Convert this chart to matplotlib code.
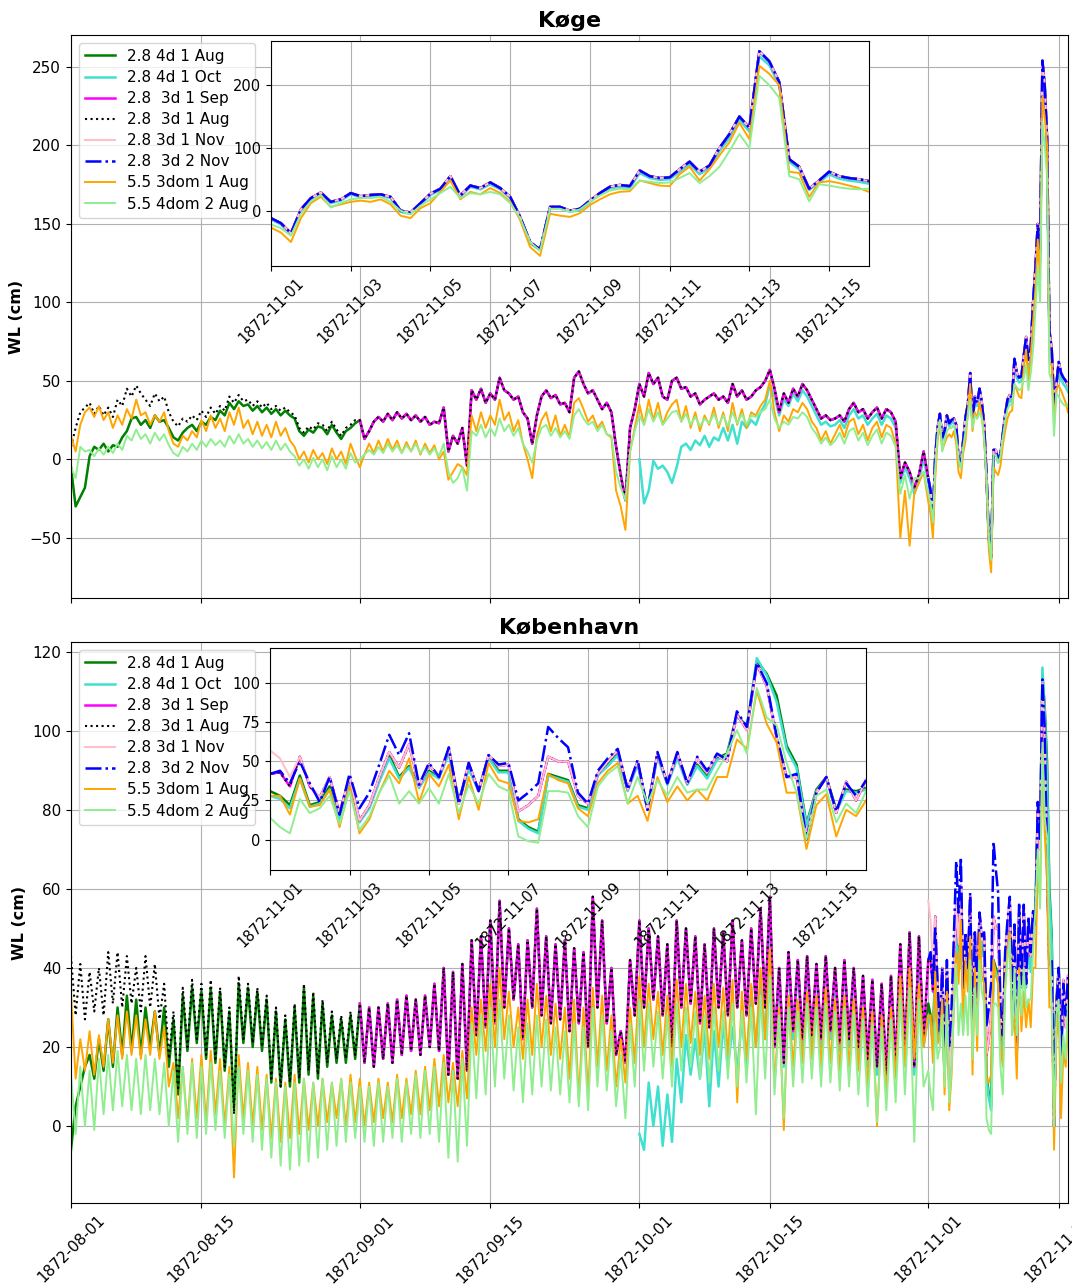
import matplotlib
matplotlib.use('Agg')
import matplotlib.pyplot as plt
import matplotlib.dates as mdates
import numpy as np
import pandas as pd

plt.rcParams['font.size'] = 11

# time axes: 12-hourly values up to end of October, 6-hourly in November
t_pre = pd.date_range('1872-08-01', periods=184, freq='12h')
t_nov = pd.date_range('1872-11-01', periods=61, freq='6h')

# ---------------- Køge ----------------
# 2.8 3d 1 Aug, Aug 1 - Oct 31 (also 1 Sep run from Sep 1, 4d 1 Aug run from Sep 1)
kog_3d_1aug_pre = [
    8, 20, 30, 33, 36, 29, 34, 28, 33, 27,
    38, 34, 45, 40, 47, 42, 38, 34, 42, 37,
    40, 30, 24, 21, 26, 24, 28, 25, 31, 27,
    33, 29, 34, 31, 40, 36, 41, 37, 38, 34,
    37, 33, 36, 32, 34, 31, 33, 30, 28, 20,
    17, 21, 19, 23, 22, 18, 24, 19, 15, 20,
    22, 25, 25, 13, 18, 24, 27, 24, 29, 25,
    30, 26, 29, 25, 28, 24, 27, 22, 24, 23,
    33, 5, 15, 10, 20, -4, 44, 38, 45, 36,
    42, 38, 52, 44, 42, 38, 40, 30, 26, 10,
    28, 40, 44, 39, 41, 35, 36, 30, 52, 56,
    48, 42, 44, 38, 32, 36, 30, 8, -10, -26,
    20, 32, 48, 40, 55, 48, 52, 40, 38, 50,
    52, 45, 46, 40, 42, 35, 38, 40, 42, 38,
    40, 36, 48, 40, 44, 38, 40, 44, 46, 50,
    57, 45, 30, 42, 36, 45, 40, 48, 44, 38,
    32, 26, 28, 25, 26, 28, 24, 32, 36, 30,
    32, 26, 30, 33, 26, 32, 30, 24, -12, -2,
    -8, -18, -10, 5]
# 2.8 4d 1 Aug, August only
kog_4d_1aug_aug = [
    -5, -30, -24, -18, 2, 8, 6, 10, 5, 9,
    8, 14, 18, 26, 27, 22, 25, 20, 28, 24,
    25, 20, 14, 12, 17, 20, 22, 18, 24, 22,
    27, 25, 31, 28, 36, 32, 37, 34, 35, 31,
    34, 30, 33, 29, 32, 28, 31, 28, 26, 18,
    15, 19, 17, 21, 20, 16, 22, 17, 13, 18,
    20, 23]
# 2.8 4d 1 Oct, October
kog_4d_1oct_pre = [
    0, -28, -20, -1, -6, -4, -8, -15, -5, 8,
    10, 6, 12, 9, 15, 8, 14, 12, 20, 12,
    22, 10, 24, 20, 25, 22, 30, 35, 48, 40,
    28, 38, 34, 42, 37, 44, 40, 34, 28, 22,
    24, 21, 22, 25, 20, 28, 32, 26, 28, 22,
    26, 29, 22, 28, 26, 20, -15, -5, -12, -22,
    -13, 0]
kog_3dom_pre = [
    15, 5, 22, 30, 33, 27, 34, 25, 30, 20,
    28, 22, 32, 26, 38, 28, 30, 22, 28, 24,
    30, 18, 10, 8, 15, 12, 18, 14, 25, 18,
    28, 20, 26, 18, 30, 22, 33, 20, 25, 16,
    24, 15, 22, 14, 24, 15, 20, 12, 8, 0,
    5, -2, 6, 0, 4, -3, 7, 0, 5, -3,
    10, 2, -5, 3, 10, 4, 12, 5, 13, 6,
    12, 4, 11, 5, 12, 3, 10, 4, 9, 0,
    5, -13, -8, -3, -5, -10, 28, 18, 30, 20,
    28, 22, 38, 25, 30, 18, 25, 10, 0, -12,
    15, 25, 30, 18, 28, 15, 22, 14, 36, 39,
    32, 24, 28, 20, 24, 16, 14, -20, -30, -45,
    5, 20, 35, 22, 38, 25, 36, 22, 30, 35,
    38, 24, 34, 20, 30, 18, 28, 22, 33, 20,
    30, 18, 36, 22, 32, 20, 30, 28, 34, 38,
    50, 30, 18, 28, 24, 32, 30, 36, 32, 24,
    20, 12, 18, 10, 16, 22, 14, 24, 26, 16,
    22, 12, 20, 24, 14, 22, 20, 10, -50, -20,
    -55, -22, -15, -8]
kog_4dom_pre = [
    -5, -12, 8, 5, 6, 2, 7, 3, 8, 4,
    10, 6, 15, 12, 19, 13, 16, 10, 17, 12,
    16, 9, 4, 2, 8, 5, 10, 6, 12, 8,
    13, 9, 12, 8, 15, 10, 16, 10, 13, 8,
    12, 7, 11, 6, 12, 6, 10, 5, 2, -4,
    0, -6, 1, -5, 0, -7, 2, -5, 0, -6,
    4, -2, 0, 3, 6, 3, 8, 4, 10, 5,
    9, 4, 9, 5, 10, 4, 8, 3, 7, 2,
    10, -8, -15, -12, -5, -20, 18, 15, 22, 14,
    20, 15, 26, 18, 22, 15, 20, 10, 5, -2,
    12, 20, 22, 15, 20, 14, 18, 13, 28, 32,
    26, 22, 24, 18, 22, 16, 15, -8, -18, -26,
    5, 18, 28, 22, 32, 24, 30, 22, 26, 30,
    31, 24, 29, 22, 27, 21, 26, 23, 29, 22,
    28, 21, 30, 23, 29, 22, 28, 27, 30, 32,
    38, 26, 20, 24, 22, 27, 26, 30, 27, 20,
    16, 10, 14, 9, 12, 17, 10, 18, 20, 12,
    17, 9, 15, 19, 10, 17, 15, 8, -22, -10,
    -25, -12, -12, -8]
# November, 6-hourly; the 2.8 runs coincide at Køge
kog_28_nov = [
    -12, -20, -36, 2, 20, 29, 14, 18, 28, 23,
    25, 26, 22, 0, -3, 12, 27, 35, 55, 24,
    40, 36, 45, 36, 22, -10, -50, -62, 6, 6,
    0, 3, 16, 28, 38, 41, 39, 64, 55, 52,
    53, 66, 78, 62, 72, 100, 122, 150, 132, 254,
    238, 205, 82, 70, 35, 48, 62, 55, 52, 50,
    47]
kog_4d_1oct_nov = [
    -14, -22, -38, 0, 18, 27, 12, 16, 26, 21,
    23, 24, 20, -2, -5, 10, 25, 33, 52, 22,
    38, 34, 42, 34, 20, -12, -52, -63, 4, 4,
    -2, 1, 14, 26, 35, 38, 36, 60, 52, 49,
    50, 62, 74, 58, 68, 95, 116, 145, 126, 246,
    232, 200, 78, 66, 33, 45, 58, 51, 48, 46,
    43]
kog_3dom_nov = [
    -27, -35, -50, -12, 12, 22, 6, 10, 14, 16,
    14, 18, 10, -8, -12, 4, 12, 30, 48, 18,
    30, 26, 36, 28, 14, -15, -58, -72, -5, -8,
    -10, -4, 9, 18, 26, 30, 31, 48, 44, 40,
    39, 58, 70, 48, 66, 88, 109, 140, 114, 231,
    218, 200, 62, 60, 22, 45, 47, 44, 40, 36,
    30]
kog_4dom_nov = [
    -22, -28, -40, -5, 15, 25, 5, 12, 18, 20,
    20, 22, 14, 0, -6, 8, 18, 28, 38, 20,
    28, 26, 30, 26, 12, -12, -50, -64, 3, 3,
    -2, 2, 14, 24, 32, 35, 34, 48, 46, 44,
    45, 52, 60, 44, 55, 70, 95, 122, 100, 215,
    200, 180, 55, 50, 15, 42, 40, 37, 35, 34,
    35]

# ---------------- København ----------------
kbh_3d_1aug_pre = [
    43, 28, 41, 27, 39, 29, 40, 28, 44, 31,
    44, 30, 43, 31, 40, 29, 43, 30, 41, 27,
    36, 17, 29, 9, 35, 20, 37, 22, 36, 18,
    37, 17, 35, 15, 30, 3, 38, 22, 36, 21,
    35, 20, 33, 12, 30, 10, 28, 11, 31, 12,
    36, 14, 34, 13, 32, 16, 29, 17, 28, 17,
    29, 18, 31, 16, 30, 15, 30, 17, 31, 16,
    32, 18, 33, 19, 32, 18, 33, 20, 36, 19,
    40, 13, 39, 12, 41, 14, 47, 23, 48, 25,
    52, 26, 57, 30, 50, 32, 46, 22, 47, 30,
    55, 28, 48, 26, 46, 27, 47, 24, 45, 26,
    44, 20, 58, 30, 52, 26, 40, 18, 24, 16,
    42, 28, 52, 30, 50, 32, 48, 28, 46, 20,
    52, 30, 50, 31, 48, 26, 46, 25, 50, 30,
    49, 28, 52, 30, 47, 28, 50, 31, 55, 30,
    58, 20, 40, 16, 44, 24, 42, 22, 43, 23,
    41, 22, 43, 24, 40, 21, 42, 22, 40, 20,
    38, 17, 37, 15, 36, 13, 38, 16, 46, 18,
    49, 15, 48, 22]
kbh_4d_1aug_aug = [
    -6, 5, 10, 15, 18, 12, 22, 14, 27, 15,
    30, 18, 33, 19, 32, 18, 30, 20, 29, 18,
    30, 15, 27, 8, 33, 19, 35, 21, 34, 17,
    35, 16, 34, 14, 29, 4, 36, 21, 35, 20,
    34, 19, 32, 11, 29, 10, 27, 10, 30, 11,
    35, 13, 33, 12, 31, 15, 28, 16, 27, 16,
    28, 17]
kbh_4d_1oct_pre = [
    -2, -6, 11, 0, 10, -5, 8, -4, 17, 6,
    23, 13, 22, 12, 25, 5, 24, 10, 26, 15,
    25, 14, 27, 15, 35, 20, 36, 22, 50, 20,
    38, 15, 42, 22, 40, 20, 41, 21, 39, 20,
    41, 22, 38, 19, 40, 20, 38, 18, 36, 15,
    35, 13, 34, 11, 36, 14, 44, 16, 47, 13,
    46, 20]
kbh_3dom_pre = [
    34, 12, 22, 14, 24, 13, 23, 15, 27, 16,
    28, 17, 29, 18, 28, 17, 27, 18, 29, 17,
    25, 10, 16, 2, 15, 0, 17, 2, 18, 1,
    19, 3, 17, 0, 15, -13, 18, 2, 16, 0,
    15, -1, 13, -3, 12, -4, 11, -3, 13, -2,
    12, -1, 11, 0, 12, 1, 11, 2, 12, 0,
    13, 1, 12, 0, 11, 1, 12, 2, 11, 1,
    13, 2, 12, 3, 14, 3, 15, 4, 17, 5,
    18, 6, 16, 5, 19, 7, 30, 18, 32, 19,
    36, 20, 40, 22, 34, 20, 30, 17, 32, 18,
    36, 20, 33, 18, 31, 17, 30, 12, 32, 7,
    30, 8, 35, 15, 33, 14, 28, 10, 22, 11,
    30, 16, 38, 20, 36, 22, 34, 18, 33, 15,
    37, 20, 36, 21, 34, 18, 33, 17, 36, 20,
    35, 18, 37, 6, 34, 17, 36, 20, 40, 22,
    45, 10, 30, -1, 33, 15, 32, 16, 34, 17,
    33, 15, 35, 16, 32, 14, 33, 15, 32, 14,
    30, 10, 29, 0, 28, 8, 30, 12, 38, 15,
    40, 17, 36, 20]
kbh_4dom_pre = [
    13, -2, 15, 0, 14, -1, 17, 3, 18, 4,
    19, 5, 18, 4, 17, 3, 18, 4, 17, 3,
    16, 0, 14, -4, 15, -2, 16, -3, 15, -2,
    16, -1, 14, -3, 13, -5, 15, -2, 14, -4,
    13, -6, 12, -8, 11, -10, 10, -11, 11, -10,
    12, -9, 11, -8, 12, -6, 11, -5, 12, -4,
    11, -3, 10, -4, 10, -5, 11, -4, 10, -3,
    12, -4, 11, -2, 13, -3, 14, -2, 15, -4,
    16, -8, 14, -9, 17, -5, 26, 7, 28, 8,
    30, 10, 32, 12, 28, 9, 25, 6, 26, 8,
    28, 10, 27, 9, 25, 8, 24, 6, 26, 5,
    25, 4, 30, 10, 28, 9, 24, 5, 18, 2,
    26, 10, 32, 14, 31, 15, 29, 12, 28, 10,
    31, 14, 30, 15, 29, 12, 28, 11, 30, 14,
    29, 12, 31, 10, 29, 11, 30, 3, 33, 12,
    38, 8, 28, 2, 30, 10, 29, 11, 31, 12,
    30, 10, 31, 11, 29, 9, 30, 10, 29, 8,
    27, 5, 26, 1, 25, 4, 27, 6, 33, 8,
    35, -4, 32, 10]
# November, 6-hourly
kbh_4d_1aug_nov = [
    31, 28, 22, 41, 22, 24, 34, 13, 38, 12,
    21, 38, 54, 40, 47, 34, 44, 40, 56, 25,
    46, 32, 53, 44, 44, 13, 8, 5, 42, 40,
    38, 22, 20, 42, 48, 55, 32, 49, 20, 54,
    36, 53, 36, 48, 40, 52, 55, 80, 72, 114,
    106, 92, 60, 48, 10, 32, 40, 19, 32, 31,
    33]
kbh_4d_1oct_nov = [
    28, 26, 20, 39, 21, 23, 32, 12, 36, 11,
    20, 37, 52, 39, 46, 33, 43, 39, 55, 24,
    45, 31, 52, 43, 43, 12, 7, 4, 41, 39,
    37, 21, 19, 41, 47, 54, 31, 48, 19, 53,
    35, 52, 35, 47, 39, 51, 54, 79, 71, 116,
    105, 88, 58, 46, 9, 31, 39, 18, 31, 30,
    32]
kbh_3d_nov = [
    42, 43, 34, 53, 34, 27, 40, 17, 40, 12,
    22, 40, 56, 46, 61, 34, 48, 40, 58, 23,
    49, 31, 54, 47, 48, 18, 22, 28, 53, 50,
    50, 28, 23, 42, 50, 57, 32, 50, 19, 55,
    36, 55, 36, 52, 43, 54, 50, 80, 70, 112,
    98, 65, 40, 40, 2, 30, 40, 17, 37, 25,
    38]
kbh_3d_1nov_nov = [
    57, 52, 40, 53, 35, 27, 40, 17, 40, 12,
    22, 40, 56, 46, 61, 34, 48, 40, 58, 23,
    49, 31, 54, 47, 48, 18, 22, 28, 53, 50,
    50, 28, 23, 42, 50, 57, 32, 50, 19, 55,
    36, 55, 36, 52, 43, 54, 50, 80, 70, 112,
    98, 65, 40, 40, 2, 30, 40, 17, 37, 25,
    38]
kbh_3d_2nov_nov = [
    42, 44, 36, 50, 36, 24, 40, 16, 42, 20,
    30, 48, 67, 54, 68, 35, 49, 40, 59, 23,
    49, 31, 54, 48, 49, 25, 30, 36, 72, 65,
    59, 30, 23, 44, 52, 58, 32, 51, 19, 56,
    36, 56, 36, 53, 44, 55, 51, 82, 72, 113,
    100, 66, 40, 42, 0, 30, 40, 18, 36, 28,
    38]
kbh_3dom_nov = [
    28, 28, 16, 39, 21, 22, 32, 8, 34, 4,
    13, 30, 44, 36, 52, 24, 42, 34, 48, 13,
    40, 19, 49, 38, 36, 12, 11, 13, 42, 38,
    36, 20, 15, 36, 44, 49, 23, 28, 12, 40,
    24, 34, 25, 32, 25, 40, 40, 64, 58, 95,
    74, 62, 30, 30, -6, 22, 29, 2, 19, 15,
    25]
kbh_4dom_nov = [
    14, 8, 4, 26, 17, 20, 28, 10, 31, 6,
    15, 30, 41, 23, 31, 23, 33, 23, 42, 17,
    35, 23, 42, 34, 31, 2, -1, -2, 31, 31,
    30, 15, 8, 34, 42, 47, 23, 40, 23, 38,
    28, 40, 30, 32, 32, 44, 55, 70, 55, 97,
    78, 73, 49, 30, 0, 28, 32, 11, 23, 17,
    31]

labels = ['2.8 4d 1 Aug', '2.8 4d 1 Oct', '2.8  3d 1 Sep', '2.8  3d 1 Aug',
          '2.8 3d 1 Nov', '2.8  3d 2 Nov', '5.5 3dom 1 Aug', '5.5 4dom 2 Aug']
colors = ['green', 'turquoise', 'magenta', 'black', 'pink', 'blue', 'orange', 'lightgreen']
styles = ['-', '-', '-', ':', '-', '-.', '-', '-']
widths = [1.8, 1.8, 1.8, 1.5, 1.5, 1.8, 1.4, 1.4]

t_all = t_pre.append(t_nov)
t_sep = t_pre[62:].append(t_nov)
t_oct = t_pre[122:].append(t_nov)


def build(pre_3d, aug_4d, oct_4d, dom3, dom4, nov_4d, nov_4doct, nov_3d, nov_1nov, nov_2nov,
          nov_dom3, nov_dom4):
    pre_3d = np.array(pre_3d)
    return [
        (t_all, np.concatenate([aug_4d, pre_3d[62:], nov_4d])),
        (t_oct, np.concatenate([oct_4d, nov_4doct])),
        (t_sep, np.concatenate([pre_3d[62:], nov_3d])),
        (t_all, np.concatenate([pre_3d, nov_3d])),
        (t_nov, np.array(nov_1nov)),
        (t_nov, np.array(nov_2nov)),
        (t_all, np.concatenate([dom3, nov_dom3])),
        (t_all, np.concatenate([dom4, nov_dom4])),
    ]


koge = build(kog_3d_1aug_pre, kog_4d_1aug_aug, kog_4d_1oct_pre, kog_3dom_pre, kog_4dom_pre,
             kog_28_nov, kog_4d_1oct_nov, kog_28_nov, kog_28_nov, kog_28_nov,
             kog_3dom_nov, kog_4dom_nov)
kbh = build(kbh_3d_1aug_pre, kbh_4d_1aug_aug, kbh_4d_1oct_pre, kbh_3dom_pre, kbh_4dom_pre,
            kbh_4d_1aug_nov, kbh_4d_1oct_nov, kbh_3d_nov, kbh_3d_1nov_nov, kbh_3d_2nov_nov,
            kbh_3dom_nov, kbh_4dom_nov)

fig = plt.figure(figsize=(10.72, 12.84), dpi=100)
ax1 = fig.add_axes([0.0662, 0.5343, 0.9301, 0.4384])
ax2 = fig.add_axes([0.0662, 0.0631, 0.9301, 0.4369], sharex=ax1)
in1 = fig.add_axes([0.2528, 0.7928, 0.5578, 0.1752])
in2 = fig.add_axes([0.2519, 0.3224, 0.5560, 0.1729])

for ax, ins, data, title in [(ax1, in1, koge, 'Køge'), (ax2, in2, kbh, 'København')]:
    for (t, y), lab, c, ls, lw in zip(data, labels, colors, styles, widths):
        ax.plot(t, y, color=c, ls=ls, lw=lw, label=lab)
        ins.plot(t, y, color=c, ls=ls, lw=lw)
    ax.set_title(title, fontsize=16, fontweight='bold')
    ax.set_ylabel('WL (cm)', fontsize=11.5, fontweight='bold')
    ax.grid(True)
    ax.legend(loc='upper left', fontsize=11, labelspacing=0.4)
    ins.grid(True)
    ins.set_xlim(pd.Timestamp('1872-11-01'), pd.Timestamp('1872-11-16'))
    ins.xaxis.set_major_locator(mdates.DayLocator(bymonthday=range(1, 32, 2)))
    ins.xaxis.set_major_formatter(mdates.DateFormatter('%Y-%m-%d'))
    ins.tick_params(labelsize=10.5)
    plt.setp(ins.get_xticklabels(), rotation=45)

ax1.set_xlim(pd.Timestamp('1872-08-01'), pd.Timestamp('1872-11-16'))
ax1.xaxis.set_major_locator(mdates.DayLocator(bymonthday=[1, 15]))
ax1.xaxis.set_major_formatter(mdates.DateFormatter('%Y-%m-%d'))
ax1.tick_params(labelbottom=False)
plt.setp(ax2.get_xticklabels(), rotation=45)

fig.savefig('out.png', dpi=100)
